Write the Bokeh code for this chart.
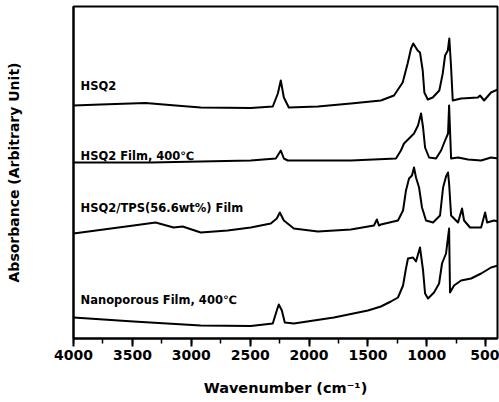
from bokeh.plotting import figure
from bokeh.models import Range1d, SingleIntervalTicker, FixedTicker, ColumnDataSource
from bokeh.core.properties import value
from bokeh.embed import file_html
from bokeh.resources import INLINE

# Wavenumber (cm-1) and absorbance (arbitrary, stacked offsets)
hsq2_wn = [4000, 3770, 3388, 3133, 2920, 2495, 2308, 2265, 2240, 2214, 2172, 1925, 1645, 1390,
           1279, 1205, 1163, 1134, 1115, 1078, 1058, 1035, 1021, 992, 950, 894, 865, 845, 822,
           809, 794, 780, 709, 567, 548, 514, 455, 397]
hsq2_ab = [233, 234, 235.5, 233, 231, 230.5, 232, 245, 258, 241, 231, 232, 235, 238,
           243, 256, 275, 290, 295, 288, 286, 268, 246, 239, 241, 248, 265, 283, 288,
           300, 271, 238, 240, 241, 243, 238, 246, 249]

film_wn = [4000, 3345, 2495, 2282, 2240, 2214, 2180, 1645, 1262, 1220, 1194, 1151, 1109, 1075,
           1049, 1032, 1015, 981, 922, 879, 845, 820, 811, 794, 735, 650, 539, 455, 395]
film_ab = [176, 176, 178, 180, 188, 180, 178, 178, 180, 188, 195, 200, 205, 213,
           225, 211, 191, 181, 180, 188, 198, 205, 233, 180, 181, 179, 178, 181, 180]

tps_wn = [4000, 3490, 3303, 3150, 3073, 2920, 2691, 2495, 2325, 2274, 2248, 2214, 2129, 1925,
          1645, 1449, 1424, 1407, 1390, 1245, 1202, 1177, 1151, 1126, 1109, 1092, 1066, 1041,
          1007, 947, 888, 862, 837, 820, 811, 794, 735, 701, 684, 633, 539, 505, 488, 429, 395]
tps_ab = [105, 113, 116, 111, 112, 106, 108, 111, 115, 120, 126, 118, 110, 107,
          109, 113, 119, 113, 114, 118, 128, 148, 160, 163, 171, 161, 151, 131,
          118, 116, 123, 151, 162, 166, 155, 123, 116, 130, 118, 111, 111, 126, 116, 118, 117]

nano_wn = [4000, 3490, 2920, 2495, 2308, 2274, 2257, 2231, 2206, 2129, 1789, 1500, 1390, 1305,
           1245, 1202, 1177, 1160, 1117, 1092, 1058, 1032, 1015, 990, 939, 896, 871, 837, 811,
           803, 769, 709, 624, 539, 455, 395]
nano_ab = [21, 17, 13, 12.5, 15, 28, 34, 28, 16, 15, 21, 28, 32, 37,
           41, 53, 70, 80, 81, 77, 91, 68, 45, 40, 46, 55, 75, 85, 110,
           46, 53, 58, 60, 65, 71, 73]

labels = ["HSQ2", "HSQ2 Film, 400\u2103", "HSQ2/TPS(56.6wt%) Film", "Nanoporous Film, 400\u2103"]
label_wn = [3940, 3940, 3940, 3940]
label_ab = [253, 183, 131, 39]

FONT = "DejaVu Sans"

p = figure(width=499, height=402, x_range=Range1d(4000, 400), y_range=Range1d(0, 332),
           output_backend="svg", toolbar_location=None,
           min_border_left=73, min_border_right=2, min_border_top=6, min_border_bottom=64)

p.xgrid.visible = False
p.ygrid.visible = False
p.outline_line_color = "black"
p.outline_line_width = 2
p.outline_line_alpha = 1
p.background_fill_color = "white"
p.border_fill_color = "white"

for wn, ab in [(hsq2_wn, hsq2_ab), (film_wn, film_ab), (tps_wn, tps_ab), (nano_wn, nano_ab)]:
    p.line(wn, ab, line_color="black", line_width=2, line_join="round")

src = ColumnDataSource(dict(x=label_wn, y=label_ab, t=labels))
p.text(x="x", y="y", text="t", source=src, text_font=value(FONT), text_font_style="bold",
       text_font_size="11.5px", text_baseline="middle", text_align="left", text_color="black")

xa = p.xaxis[0]
xa.ticker = SingleIntervalTicker(interval=500, num_minor_ticks=2)
xa.axis_line_width = 2
xa.axis_line_color = "black"
xa.major_tick_line_color = "black"
xa.minor_tick_line_color = "black"
xa.major_tick_line_width = 2
xa.minor_tick_line_width = 1.5
xa.major_tick_out = 8
xa.major_tick_in = 0
xa.minor_tick_out = 5
xa.minor_tick_in = 0
xa.major_label_text_font = FONT
xa.major_label_text_font_style = "bold"
xa.major_label_text_font_size = "14px"
xa.major_label_text_color = "black"
xa.major_label_standoff = 3
xa.axis_label = "Wavenumber (cm\u207b\u00b9)"
xa.axis_label_text_font = FONT
xa.axis_label_text_font_style = "bold"
xa.axis_label_text_font_size = "14.5px"
xa.axis_label_text_color = "black"
xa.axis_label_standoff = 17

ya = p.yaxis[0]
ya.ticker = FixedTicker(ticks=[])
ya.axis_line_width = 2
ya.axis_line_color = "black"
ya.major_tick_out = 0
ya.minor_tick_out = 0
ya.major_label_standoff = 0
ya.axis_label = "Absorbance (Arbitrary Unit)"
ya.axis_label_text_font = FONT
ya.axis_label_text_font_style = "bold"
ya.axis_label_text_font_size = "14px"
ya.axis_label_text_color = "black"
ya.axis_label_standoff = 52

open("out.html", "w").write(file_html(p, INLINE))
